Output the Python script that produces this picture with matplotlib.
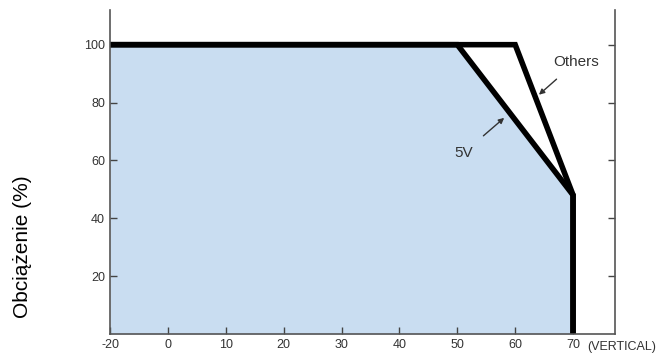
import numpy as np
import matplotlib.pyplot as plt

plt.rcParams['font.family'] = ['Liberation Sans', 'DejaVu Sans']
plt.rcParams['axes.unicode_minus'] = False

# derating curves: temperature (C) vs load (%)
temp_5v = [-20, 50, 70, 70]
load_5v = [100, 100, 48, 0]
temp_others = [-20, 60, 70, 70]
load_others = [100, 100, 48, 0]

x_ticks = [-20, 0, 10, 20, 30, 40, 50, 60, 70]
y_ticks = [20, 40, 60, 80, 100]


# the -20 to 0 span is drawn as wide as one 10 degree step
def fwd(x):
    x = np.asarray(x, dtype=float)
    return np.where(x < 0, x / 2, x)


def inv(x):
    x = np.asarray(x, dtype=float)
    return np.where(x < 0, x * 2, x)


fig = plt.figure(figsize=(6.71, 3.56), dpi=100)
ax = fig.add_axes([0.164, 0.062, 0.753, 0.910])
ax.set_xscale('function', functions=(fwd, inv))

ax.fill_between(temp_5v, load_5v, 0, color='#c9ddf1', lw=0)
ax.plot(temp_others, load_others, color='black', lw=4, solid_joinstyle='miter')
ax.plot(temp_5v, load_5v, color='black', lw=4, solid_joinstyle='miter')

ax.set_xlim(-20, 77.3)
ax.set_ylim(0, 112)
ax.set_xticks(x_ticks)
ax.set_xticklabels([str(t) for t in x_ticks])
ax.set_yticks(y_ticks)
ax.xaxis.set_minor_locator(plt.NullLocator())
ax.tick_params(axis='both', direction='in', labelsize=9, labelcolor='#333333',
               color='#444444', length=5, width=1)
ax.tick_params(axis='y', right=True)
ax.tick_params(axis='x', pad=4)
ax.spines['top'].set_visible(False)
for s in ['left', 'right', 'bottom']:
    ax.spines[s].set_color('#555555')
    ax.spines[s].set_linewidth(1.2)

ax.text(72.5, -2.6, '(VERTICAL)', fontsize=9, color='#333333',
        ha='left', va='top', clip_on=False)

ax.set_ylabel('Obciążenie (%)', fontsize=15)
ax.yaxis.set_label_coords(-0.155, 0.27)

ax.annotate('Others', xy=(64.1, 82.7), xytext=(70.5, 94), fontsize=11,
            color='#333333', ha='center', va='center',
            arrowprops=dict(arrowstyle='-|>', color='#333333', lw=1,
                            shrinkA=8, shrinkB=0, mutation_scale=8))
ax.annotate('5V', xy=(58.1, 74.7), xytext=(51.1, 62.6), fontsize=11,
            color='#333333', ha='center', va='center',
            arrowprops=dict(arrowstyle='-|>', color='#333333', lw=1,
                            shrinkA=8, shrinkB=0, mutation_scale=8))

fig.savefig('out.png', dpi=100)
